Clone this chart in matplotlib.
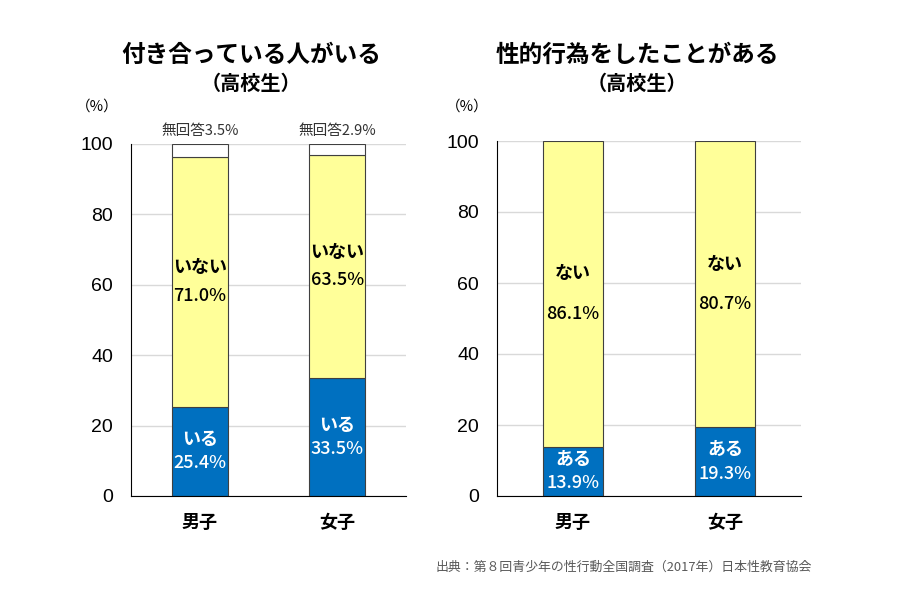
import matplotlib
matplotlib.use("Agg")
import matplotlib.pyplot as plt

plt.rcParams['font.family'] = ['Noto Sans CJK JP', 'DejaVu Sans']

# Data
cats = ['男子', '女子']
left_title = '付き合っている人がいる\n（高校生）'
left_yes = [25.4, 33.5]
left_no = [71.0, 63.5]
left_na = [3.5, 2.9]
left_yes_label = 'いる'
left_no_label = 'いない'
left_na_label = '無回答'

right_title = '性的行為をしたことがある\n（高校生）'
right_yes = [13.9, 19.3]
right_no = [86.1, 80.7]
right_yes_label = 'ある'
right_no_label = 'ない'

yticks = [0, 20, 40, 60, 80, 100]
source = '出典：第８回青少年の性行動全国調査（2017年）日本性教育協会'

BLUE = '#0070C0'
YELLOW = '#FFFF99'
EDGE = '#404040'

fig = plt.figure(figsize=(9, 6), dpi=100)
axL = fig.add_axes([131/900, 104/600, 275/900, 352/600])
axR = fig.add_axes([497/900, 104/600, 304/900, 355/600])

def style(ax):
    ax.set_ylim(0, 100)
    ax.set_xlim(-0.5, 1.5)
    ax.set_yticks(yticks)
    ax.tick_params(axis='y', length=0, labelsize=14, pad=13)
    ax.tick_params(axis='x', length=0, labelsize=13, pad=12)
    for lab in ax.get_yticklabels():
        lab.set_fontfamily(['Liberation Sans', 'DejaVu Sans'])
    for lab in ax.get_xticklabels():
        lab.set_fontweight('bold')
    ax.grid(axis='y', color='#D9D9D9', linewidth=1)
    ax.set_axisbelow(True)
    for s in ['top', 'right']:
        ax.spines[s].set_visible(False)
    ax.spines['left'].set_color('black')
    ax.spines['bottom'].set_color('black')

def two_line(ax, xv, yv, top, bottom, color, off_px):
    off = off_px * 0.72
    ax.annotate(top, (xv, yv), xytext=(0, off), textcoords='offset points',
                ha='center', va='center', color=color, fontsize=13, fontweight='bold')
    ax.annotate(bottom, (xv, yv), xytext=(0, -off), textcoords='offset points',
                ha='center', va='center', color=color, fontsize=13, fontweight='medium')

x = list(range(len(cats)))

# Left chart
wL = 0.41
axL.bar(x, left_yes, width=wL, color=BLUE, edgecolor=EDGE, linewidth=0.8, zorder=2)
axL.bar(x, left_no, width=wL, bottom=left_yes, color=YELLOW, edgecolor=EDGE, linewidth=0.8, zorder=2)
bott2 = [a + b for a, b in zip(left_yes, left_no)]
axL.bar(x, left_na, width=wL, bottom=bott2, color='white', edgecolor=EDGE, linewidth=0.8, zorder=2)
axL.set_xticks(x)
axL.set_xticklabels(cats, fontweight='bold')
style(axL)
for i in x:
    two_line(axL, i, left_yes[i] / 2, left_yes_label, f'{left_yes[i]:.1f}%', 'white', 12)
    two_line(axL, i, left_yes[i] + left_no[i] / 2, left_no_label, f'{left_no[i]:.1f}%', 'black', 14)
    axL.text(i, 103.8, f'{left_na_label}{left_na[i]:.1f}%', ha='center', va='center',
             color='#333333', fontsize=10.5)

# Right chart
wR = 0.40
axR.bar(x, right_yes, width=wR, color=BLUE, edgecolor=EDGE, linewidth=0.8, zorder=2)
axR.bar(x, right_no, width=wR, bottom=right_yes, color=YELLOW, edgecolor=EDGE, linewidth=0.8, zorder=2)
axR.set_xticks(x)
axR.set_xticklabels(cats, fontweight='bold')
style(axR)
for i in x:
    two_line(axR, i, right_yes[i] / 2, right_yes_label, f'{right_yes[i]:.1f}%', 'white', 12)
    two_line(axR, i, right_yes[i] + right_no[i] / 2, right_no_label, f'{right_no[i]:.1f}%', 'black', 20)

# Titles and unit labels
for cx, title in [(251, left_title), (637, right_title)]:
    l1, l2 = title.split('\n')
    fig.text(cx / 900, 1 - 55 / 600, l1, ha='center', va='center', fontsize=17, fontweight='bold')
    fig.text(cx / 900, 1 - 83 / 600, l2, ha='center', va='center', fontsize=14.5, fontweight='bold')
for ux in [97, 467]:
    fig.text(ux / 900, 1 - 107 / 600, '（%）', ha='center', va='center', fontsize=10.5)

fig.text(812/900, 1 - 567/600, source, ha='right', va='center', fontsize=9.3, color='#595959')

fig.savefig('out.png', dpi=100)
